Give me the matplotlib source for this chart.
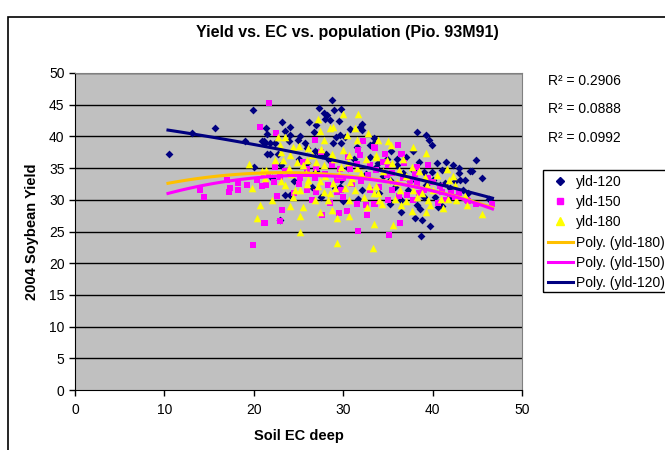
import matplotlib
matplotlib.use("Agg")
import matplotlib.pyplot as plt
import numpy as np
from matplotlib.lines import Line2D
from matplotlib.patches import Rectangle

plt.rcParams['font.family'] = ['Liberation Sans', 'DejaVu Sans']

# yld-120 (soil EC, yield)
ec_120 = [10.5, 13.1, 15.7, 19.0, 19.9, 20.0, 21.1, 21.4, 21.5, 21.5,
          20.9, 21.3, 21.8, 22.4, 23.1, 23.5, 23.9, 24.1, 24.9, 25.7,
          26.2, 26.7, 26.8, 27.2, 27.6, 27.8, 28.0, 28.1, 28.2, 28.5,
          28.7, 28.9, 29.0, 29.2, 29.6, 29.8, 29.8, 30.2, 31.5, 31.9,
          32.1, 32.1, 33.4, 33.0, 33.0, 33.9, 21.8, 22.7, 23.5, 24.1,
          29.1, 29.6, 31.7, 32.1, 22.9, 29.8,
          38.3, 39.3, 39.6, 39.9, 37.8, 35.3, 33.4, 42.3, 44.9, 44.2,
          42.9, 43.6, 43.1, 41.0, 39.9, 39.0, 37.8, 36.7, 40.1, 39.3,
          40.8, 41.9, 43.4, 41.4, 35.2, 36.5, 35.2, 38.2, 38.6, 38.0,
          38.8, 39.7, 38.7, 40.6, 37.3, 34.9, 33.7, 44.4,
          25.0, 26.0, 27.0, 28.4, 30.5, 31.2, 32.5, 34.5, 36.0, 24.5,
          26.5, 30.0, 34.0, 27.5, 41.5, 42.0, 44.0, 45.5, 23.0, 22.0,
          37.0, 35.8, 40.3, 26.0, 46.3,
          24.0, 25.2, 27.0, 29.5, 30.8, 27.3, 36.0, 37.5, 38.5, 40.5,
          42.5, 43.0, 39.0, 36.5, 41.0]
yld_120 = [37.2, 40.6, 41.4, 39.3, 44.2, 35.2, 39.2, 41.4, 40.4, 37.2,
           39.2, 39.0, 38.9, 38.9, 42.2, 40.9, 39.2, 40.2, 39.4, 39.0,
           42.2, 40.7, 37.7, 37.6, 37.0, 43.7, 42.7, 37.3, 43.4, 42.6,
           45.7, 38.9, 44.1, 39.9, 40.2, 44.3, 38.9, 39.9, 38.4, 41.5,
           41.0, 41.9, 39.7, 38.6, 36.8, 35.8, 37.3, 37.3, 30.7, 30.7,
           31.8, 32.0, 30.2, 31.5, 26.8, 33.1,
           40.7, 40.2, 39.5, 38.7, 37.7, 37.7, 38.9, 35.5, 36.3, 34.6,
           34.2, 33.2, 33.1, 34.7, 34.4, 34.4, 34.7, 34.2, 33.1, 32.3,
           32.3, 31.8, 31.6, 32.6, 33.1, 30.0, 29.3, 29.2, 28.6, 27.1,
           26.8, 25.8, 24.3, 28.9, 31.6, 36.5, 35.2, 34.6,
           36.5, 35.8, 34.5, 36.2, 35.0, 36.4, 34.0, 33.8, 35.5, 33.0,
           32.0, 29.8, 31.0, 30.5, 36.0, 30.5, 31.0, 33.5, 35.5, 33.5,
           36.8, 32.0, 30.5, 38.2, 30.2,
           41.5, 40.0, 41.8, 42.5, 41.2, 44.5, 36.5, 33.0, 36.0, 35.8,
           33.0, 35.0, 30.5, 28.0, 29.0]

# yld-150
ec_150 = [20.7, 14.0, 14.4, 17.0, 17.2, 17.3, 18.2, 18.2, 19.2, 20.4,
          20.9, 21.2, 19.9, 21.7, 22.5, 26.8, 32.2, 33.6, 31.7, 31.9,
          31.5, 33.0, 30.8, 29.6, 22.4, 21.6, 21.1, 22.9, 25.2, 26.8,
          29.3, 29.8, 25.9, 22.6, 21.4, 22.3, 31.5, 32.6, 33.4, 30.4,
          29.5, 27.6, 23.2, 22.9, 21.1, 32.7, 31.6, 32.8, 33.7, 29.3,
          28.3,
          36.1, 36.5, 34.7, 33.4, 38.2, 36.7, 34.9, 38.2, 40.8, 42.1,
          43.8, 44.9, 46.6, 40.6, 37.8, 36.2, 33.6, 36.4, 35.1, 37.1,
          36.6,
          24.0, 25.5, 27.0, 28.0, 30.0, 31.0, 34.0, 35.5, 37.5, 39.0,
          41.5, 43.0, 24.5, 26.5, 28.5, 35.0, 39.5, 27.5,
          23.5, 25.0, 26.0, 28.8, 30.5, 32.0, 33.0, 34.5, 35.5, 36.8,
          38.0, 39.5, 40.0, 41.0, 42.5, 44.0, 35.0, 30.0, 27.0, 38.5]
yld_150 = [41.5, 31.6, 30.4, 33.1, 31.3, 31.8, 31.6, 32.7, 32.3, 33.2,
           32.1, 26.4, 22.9, 45.3, 40.5, 39.4, 39.2, 38.1, 37.8, 37.0,
           35.7, 35.5, 34.9, 34.9, 35.1, 33.9, 33.9, 33.6, 33.5, 33.4,
           31.3, 31.5, 31.5, 30.6, 32.3, 32.8, 29.4, 29.2, 29.4, 28.3,
           27.9, 27.6, 28.4, 26.7, 26.4, 27.6, 25.1, 33.9, 34.7, 33.1,
           32.3,
           38.6, 37.3, 37.3, 38.3, 35.2, 33.4, 33.9, 32.6, 32.1, 31.0,
           30.0, 29.4, 29.4, 29.5, 30.0, 30.6, 29.4, 26.4, 24.4, 30.8,
           37.3,
           34.0, 36.0, 35.0, 34.0, 33.5, 32.5, 32.0, 31.5, 33.0, 31.5,
           30.0, 31.0, 31.0, 30.0, 29.5, 35.5, 33.5, 37.5,
           34.5, 32.5, 34.8, 35.5, 36.8, 33.0, 31.5, 36.0, 34.2, 35.8,
           34.0, 35.5, 32.8, 31.2, 30.5, 29.8, 30.0, 30.5, 31.2, 31.0]

# yld-180
ec_180 = [19.5, 19.8, 20.7, 20.4, 20.9,
          30.0, 31.7, 27.2, 28.9, 28.5, 31.3, 32.8, 27.4, 30.4, 31.5,
          22.7, 23.5, 22.9, 24.4, 27.9, 26.1, 28.7, 30.0, 30.7, 33.9,
          33.7, 22.4, 23.3, 24.8, 25.9, 27.0, 27.9, 29.8, 23.9, 25.5,
          21.4, 26.8, 26.1, 27.4, 28.9, 23.5, 24.6, 25.2, 27.2, 27.9,
          29.1, 30.2, 31.3, 32.9, 33.5, 24.4, 26.9, 28.3, 30.6, 32.3,
          25.5, 28.7, 27.4, 30.6, 29.3, 25.2, 33.4, 25.2, 29.3, 33.3,
          21.3, 32.7,
          35.0, 35.4, 37.8, 39.3, 33.7, 34.9, 36.7, 37.7, 36.2, 41.6,
          40.5, 39.2, 41.8, 42.3, 35.2, 33.7, 36.4, 37.8, 39.4, 42.5,
          33.9, 35.8, 38.2, 39.5, 40.9, 41.7, 42.6, 43.8, 34.3, 36.5,
          37.7, 39.3, 41.2, 45.5, 35.6, 39.7, 43.6,
          23.0, 24.0, 25.0, 26.5, 27.5, 29.0, 30.5, 31.5, 32.5, 24.2,
          25.8, 28.0, 29.5, 31.0, 32.0, 23.0, 26.0, 28.5, 30.8, 34.5,
          35.5, 37.0, 38.5, 36.0, 38.8, 40.0, 34.0, 37.0, 22.0, 24.0]
yld_180 = [35.6, 31.9, 29.2, 27.1, 34.6,
           43.6, 43.5, 42.8, 41.5, 41.3, 41.4, 40.5, 40.9, 40.2, 39.5,
           39.9, 39.9, 38.7, 38.4, 39.4, 38.1, 37.3, 37.8, 37.0, 39.5,
           36.8, 36.3, 36.3, 36.0, 36.3, 36.0, 35.5, 35.2, 35.0, 35.5,
           34.7, 34.4, 33.1, 32.9, 32.6, 32.3, 31.6, 31.6, 32.1, 31.3,
           31.8, 31.8, 31.6, 32.1, 31.0, 30.5, 30.0, 30.0, 30.0, 30.4,
           28.9, 28.4, 28.0, 27.4, 27.1, 27.4, 26.2, 24.9, 23.2, 22.4,
           33.4, 28.9,
           39.3, 38.6, 38.4, 37.4, 37.0, 36.3, 36.5, 35.2, 34.7, 34.9,
           33.9, 33.6, 33.1, 33.7, 33.1, 32.1, 31.6, 31.6, 32.3, 32.3,
           31.0, 30.2, 30.5, 30.0, 30.2, 30.1, 30.0, 29.2, 29.3, 29.2,
           28.2, 28.0, 28.7, 27.8, 26.0, 29.2, 30.6,
           37.5, 37.0, 38.5, 37.0, 38.0, 36.5, 36.0, 35.0, 36.5, 34.0,
           34.2, 33.8, 34.0, 33.5, 34.2, 33.0, 32.5, 31.0, 32.8, 34.5,
           35.8, 33.8, 34.5, 32.8, 31.0, 31.5, 30.0, 29.8, 30.0, 29.0]

# 2nd order trendlines: [a, b, c] for a*x^2 + b*x + c
poly_120 = [-0.002213, -0.1695, 43.00]
poly_150 = [-0.01205, 0.6207, 25.85]
poly_180 = [-0.0101, 0.4706, 28.80]
trend_range = [10.4, 46.7]
r2_labels = ['R\u00b2 = 0.2906', 'R\u00b2 = 0.0888', 'R\u00b2 = 0.0992']

fig = plt.figure(figsize=(6.65, 4.5), dpi=100)
# chart border, cut off at right and bottom like the original
fig.add_artist(Rectangle((8 / 665, -0.1), 1.2, (450 - 17) / 450 + 0.1,
                         transform=fig.transFigure, fill=False,
                         edgecolor='black', lw=1.2))

ax = fig.add_axes([75 / 665, 60 / 450, 447 / 665, 317 / 450])
ax.set_facecolor('#C0C0C0')

ax.scatter(ec_120, yld_120, marker='D', s=16, color='#000080', zorder=3, linewidths=0)
ax.scatter(ec_150, yld_150, marker='s', s=20, color='#FF00FF', zorder=3, linewidths=0)
ax.scatter(ec_180, yld_180, marker='^', s=30, color='#FFFF00', zorder=3, linewidths=0)

xs = np.linspace(trend_range[0], trend_range[1], 100)
ax.plot(xs, np.polyval(poly_180, xs), color='#FFC000', lw=2.2, zorder=4)
ax.plot(xs, np.polyval(poly_150, xs), color='#FF00FF', lw=2.2, zorder=4)
ax.plot(xs, np.polyval(poly_120, xs), color='#000080', lw=2.2, zorder=4)

ax.set_xlim(0, 50)
ax.set_ylim(0, 50)
ax.set_xticks(range(0, 51, 10))
ax.set_yticks(range(0, 51, 5))
for yv in range(5, 51, 5):
    ax.axhline(yv, color='black', lw=1, zorder=1)
ax.tick_params(labelsize=10, length=4, direction='out', width=1)
ax.tick_params(axis='x', pad=5)
ax.spines['top'].set_color('#808080')
ax.spines['right'].set_color('#808080')

ax.set_xlabel('Soil EC deep', fontsize=10.5, fontweight='bold', labelpad=9)
ax.set_ylabel('2004 Soybean Yield', fontsize=10.5, fontweight='bold', labelpad=7)
fig.text(347 / 665, 1 - 32 / 450, 'Yield vs. EC vs. population (Pio. 93M91)',
         ha='center', va='center', fontsize=11.5, fontweight='bold')

for lab, ypix in zip(r2_labels, [81, 109, 138]):
    fig.text(548 / 665, 1 - ypix / 450, lab, ha='left', va='center', fontsize=10)

handles = [
    Line2D([], [], ls='none', marker='D', ms=4, color='#000080'),
    Line2D([], [], ls='none', marker='s', ms=4.5, color='#FF00FF'),
    Line2D([], [], ls='none', marker='^', ms=5.5, color='#FFFF00'),
    Line2D([], [], color='#FFC000', lw=2.2),
    Line2D([], [], color='#FF00FF', lw=2.2),
    Line2D([], [], color='#000080', lw=2.2),
]
labels = ['yld-120', 'yld-150', 'yld-180', 'Poly. (yld-180)', 'Poly. (yld-150)', 'Poly. (yld-120)']
fig.legend(handles, labels, loc='upper left', bbox_to_anchor=(543 / 665, 1 - 170 / 450),
           fontsize=10, frameon=False,
           handlelength=1.8, handletextpad=0.2, labelspacing=0.45,
           borderpad=0.35, borderaxespad=0)
# legend box runs off the right edge in the original
fig.add_artist(Rectangle((543 / 665, 1 - 292 / 450), 0.2, 122 / 450,
                         transform=fig.transFigure, fill=False,
                         edgecolor='black', lw=1))

fig.savefig('out.png', dpi=100)
